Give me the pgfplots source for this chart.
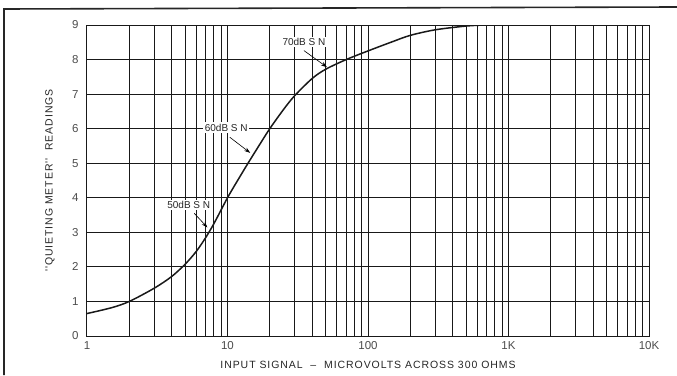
\documentclass[border=0pt]{standalone}
\usepackage{fontspec}
\setmainfont{Liberation Sans}
\newfontfamily\spaced[LetterSpace=9]{Liberation Sans}
\usepackage{pgfplots}
\pgfplotsset{compat=1.18}
\usetikzlibrary{arrows.meta}
\begin{document}
\begin{tikzpicture}[x=1pt,y=1pt]
\useasboundingbox (-87,-39) rectangle (590,336);
\draw[line width=1.6pt, black!85] (-83,-39) -- (-83,327) -- (590,329);
\begin{axis}[
  at={(0,0)}, anchor=south west,
  scale only axis, width=562pt, height=311pt,
  xmode=log, log basis x=10,
  xmin=1, xmax=10000, ymin=0, ymax=9,
  xtick={1,10,100,1000,10000}, xticklabels={1,10,100,1K,10K},
  minor xtick={2,3,4,5,6,7,8,9,20,30,40,50,60,70,80,90,200,300,400,500,600,700,800,900,2000,3000,4000,5000,6000,7000,8000,9000},
  ytick={0,1,2,3,4,5,6,7,8,9},
  grid=both,
  major grid style={black!90, line width=1pt},
  minor grid style={black!90, line width=1pt},
  axis line style={black!90, line width=1pt},
  major tick length=0pt, minor tick length=0pt,
  tick label style={font=\fontsize{11.5}{13}\selectfont, text=black!70},
  yticklabel style={xshift=-5pt},
  xticklabel style={yshift=-2pt},
  /pgf/number format/assume math mode=true,
  xlabel={\spaced INPUT SIGNAL \ – \ MICROVOLTS ACROSS 300 OHMS},
  ylabel={\spaced ''QUIETING METER''\ \ READINGS},
  x label style={at={(axis description cs:0.5,-0.093)}, anchor=center, font=\fontsize{10.5}{12}\selectfont, text=black!85},
  y label style={at={(axis description cs:-0.066,0.5)}, anchor=center, font=\fontsize{10.5}{12}\selectfont, text=black!85},
]
\addplot[black!90, line width=1.5pt, smooth] coordinates {
(1,0.65) (1.5,0.82) (2,1.0) (3,1.38) (4,1.72) (5,2.08) (6,2.45) (7,2.85) (8,3.25)
(10,4.0) (12,4.55) (14,5.0) (17,5.55) (20,6.0) (25,6.55) (30,6.95) (40,7.45)
(50,7.72) (70,8.0) (100,8.25) (150,8.52) (200,8.7) (300,8.86) (500,8.97)
(700,9.0) (1000,9.0)
};
\node[fill=white, inner sep=1.5pt, font=\fontsize{10}{11}\selectfont, text=black!85] at (axis cs:5.3,3.8) {50dB S N};
\node[fill=white, inner sep=1.5pt, font=\fontsize{10}{11}\selectfont, text=black!85] at (axis cs:9.8,6.03) {60dB S N};
\node[fill=white, inner sep=1.5pt, font=\fontsize{10}{11}\selectfont, text=black!85] at (axis cs:35,8.5) {70dB S N};
\draw[-{Stealth[length=6pt,width=4pt]}, line width=0.6pt] (axis cs:5.8,3.55) -- (axis cs:7.2,3.14);
\draw[-{Stealth[length=6pt,width=4pt]}, line width=0.6pt] (axis cs:10.4,5.75) -- (axis cs:14.5,5.3);
\draw[-{Stealth[length=6pt,width=4pt]}, line width=0.6pt] (axis cs:35,8.26) -- (axis cs:51,7.78);
\end{axis}
\end{tikzpicture}
\end{document}
